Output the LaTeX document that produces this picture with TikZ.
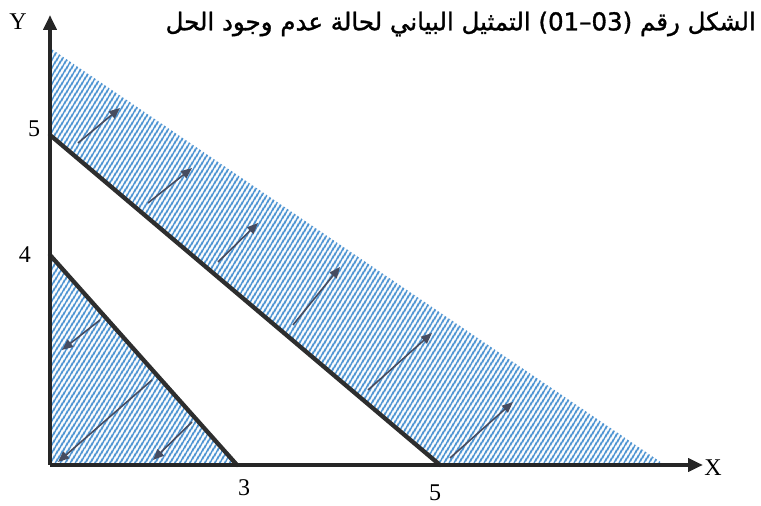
\documentclass[tikz,border=0pt]{standalone}
\usepackage{fontspec}
\setmainfont{Liberation Serif}
\newfontfamily\arabicfont[Script=Arabic,FakeBold=1.3]{DejaVu Sans}
\TeXXeTstate=1
\usepackage{tikz}
\usetikzlibrary{arrows.meta,patterns.meta}
\definecolor{stripe}{RGB}{78,148,210}
\definecolor{arwcol}{RGB}{70,76,96}
\tikzset{
  ax/.style={line width=4.3pt,draw=black!85,-{Triangle[length=15pt,width=13pt]}},
  lim/.style={line width=4.3pt,draw=black!82,line cap=round},
  band/.style={fill=white,postaction={pattern={Lines[angle=58,distance=4pt,line width=2.2pt]},pattern color=stripe}},
  arw/.style={draw=arwcol,line width=1.6pt,-{Triangle[length=11pt,width=9pt]}},
  lab/.style={font=\fontsize{24}{26}\selectfont,inner sep=0pt},
}

\begin{document}
\begin{tikzpicture}[x=1pt,y=1pt]
  \useasboundingbox (0,0) rectangle (761,506);
  % corner points
  \coordinate (O) at (50,41);
  \coordinate (Y4) at (50,251); \coordinate (Y5) at (50,371);
  \coordinate (X3) at (237,41); \coordinate (X5) at (440,41);
  \coordinate (T) at (50,458);  \coordinate (B) at (665,41);
  \coordinate (Xe) at (703,41); \coordinate (Ye) at (50,491);
  % hatched regions
  \path[band] (O) -- (Y4) -- (X3) -- cycle;
  \path[band] (Y5) -- (T) -- (B) -- (X5) -- cycle;
  % arrows
  \foreach \a/\b/\c/\d in {78/363/120/398, 148/303/192/338, 218/244/258/283,
      293/181/340/239, 368/116/432/173, 450/48/513/104,
      100/186/62/156, 152/126/58/44, 192/84/153/46}{
    \coordinate (s) at (\a,\b); \coordinate (e) at (\c,\d);
    \draw[arw] (s) -- (e);
  }
  % constraints
  \draw[lim] (Y4) -- (X3);
  \draw[lim] (Y5) -- (X5);
  % axes
  \draw[ax] (O) -- (Xe);
  \draw[ax] (O) -- (Ye);
  \node[lab] (xl) at (713,38) {X};
  \node[lab] (yl) at (18,484) {Y};
  \node[lab] (y5) at (34,377) {5};
  \node[lab] (y4) at (25,251) {4};
  \node[lab] (x3) at (244,18) {3};
  \node[lab] (x5) at (435,13) {5};
  \node[anchor=east,inner sep=0pt,font=\fontsize{24.5}{27}\selectfont] (tt) at (756,482)
    {\arabicfont\beginR الشكل رقم \beginL(03–01)\endL{} التمثيل البياني لحالة عدم وجود الحل\endR};
\end{tikzpicture}
\end{document}
